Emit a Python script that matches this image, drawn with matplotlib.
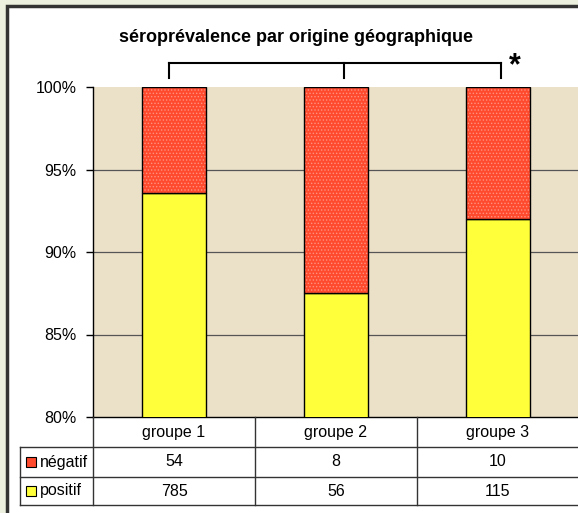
import numpy as np
import matplotlib.pyplot as plt
from matplotlib.patches import Rectangle
from matplotlib.transforms import blended_transform_factory

plt.rcParams['font.family'] = ['Liberation Sans', 'DejaVu Sans']
plt.rcParams['hatch.linewidth'] = 0.6

groupes = ['groupe 1', 'groupe 2', 'groupe 3']
negatif = np.array([54, 8, 10])
positif = np.array([785, 56, 115])
series = ['négatif', 'positif']
titre = 'séroprévalence par origine géographique'

total = negatif + positif
pct_pos = positif / total * 100
pct_neg = negatif / total * 100

W, H = 578, 513
fig = plt.figure(figsize=(W / 100, H / 100), dpi=100, facecolor='#EBF1DE')

def fx(px):
    return px / W

def fy(py):
    return 1 - py / H

# white chart area with dark frame
fig.patches.append(Rectangle((fx(7), -0.05), 1.2, fy(6) + 0.05, transform=fig.transFigure,
                             facecolor='white', edgecolor='#333333', linewidth=2.5, zorder=-10))

ax = fig.add_axes([fx(93), fy(417), fx(579) - fx(93), fy(87) - fy(417)])
ax.set_facecolor('#EBE0C8')
x = np.arange(len(groupes))
c_pos = '#FFFF3A'
c_neg = '#FF4A2E'
ax.bar(x, pct_pos, width=0.4, color=c_pos, edgecolor='black', linewidth=1, zorder=3)
# dotted red fill, then outline
ax.bar(x, pct_neg, width=0.4, bottom=pct_pos, color=c_neg, edgecolor='#FF9080',
       hatch='.....', linewidth=0, zorder=3)
ax.bar(x, pct_neg, width=0.4, bottom=pct_pos, fill=False, edgecolor='black', linewidth=1, zorder=4)

ax.set_xlim(-0.5, len(groupes) - 0.5)
ax.set_ylim(80, 100)
ax.set_yticks([80, 85, 90, 95, 100])
ax.set_yticklabels(['80%', '85%', '90%', '95%', '100%'], fontsize=11.5)
for yv in [85, 90, 95]:
    ax.axhline(yv, color='#555555', linewidth=0.9, zorder=1)
ax.set_xticks([])
ax.tick_params(axis='y', length=5, width=1, pad=7, colors='black')
for s in ['top', 'right']:
    ax.spines[s].set_visible(False)
ax.spines['left'].set_linewidth(1)
ax.spines['bottom'].set_linewidth(1)

# title
fig.text(fx(296), fy(37), titre, ha='center', va='center', fontsize=13, fontweight='bold')

# significance bracket
tb = blended_transform_factory(ax.transData, fig.transFigure)
bx = [-0.03, 1.05, 2.02]
fig.add_artist(plt.Line2D([bx[0], bx[-1]], [fy(63), fy(63)], transform=tb, color='black', lw=1.5))
for b in bx:
    fig.add_artist(plt.Line2D([b, b], [fy(63), fy(78)], transform=tb, color='black', lw=1.5))
fig.text(fx(515), fy(66), '*', ha='center', va='center', fontsize=22, fontweight='bold')

# data table
rows_y = [417, 447, 477, 505]
line_kw = dict(color='#333333', lw=1)
left_px = 20
for ry in rows_y[1:]:
    fig.add_artist(plt.Line2D([fx(left_px), 1.0], [fy(ry), fy(ry)], transform=fig.transFigure, **line_kw))
fig.add_artist(plt.Line2D([fx(left_px), fx(left_px)], [fy(447), fy(505)], transform=fig.transFigure, **line_kw))
for b in np.arange(len(groupes) + 1) - 0.5:
    fig.add_artist(plt.Line2D([b, b], [fy(417), fy(505)], transform=tb, **line_kw))

for i, g in enumerate(groupes):
    fig.text(i, fy(432), g, transform=tb, ha='center', va='center', fontsize=11.5)
    fig.text(i, fy(462), str(negatif[i]), transform=tb, ha='center', va='center', fontsize=11.5)
    fig.text(i, fy(491), str(positif[i]), transform=tb, ha='center', va='center', fontsize=11.5)

for ry, name, col in [(462, series[0], c_neg), (491, series[1], c_pos)]:
    fig.patches.append(Rectangle((fx(26), fy(ry + 5)), fx(10), fy(ry - 5) - fy(ry + 5),
                                 transform=fig.transFigure, facecolor=col, edgecolor='black', lw=0.8))
    fig.text(fx(40), fy(ry), name, ha='left', va='center', fontsize=11.5)

fig.savefig('out.png', dpi=100, facecolor=fig.get_facecolor())
